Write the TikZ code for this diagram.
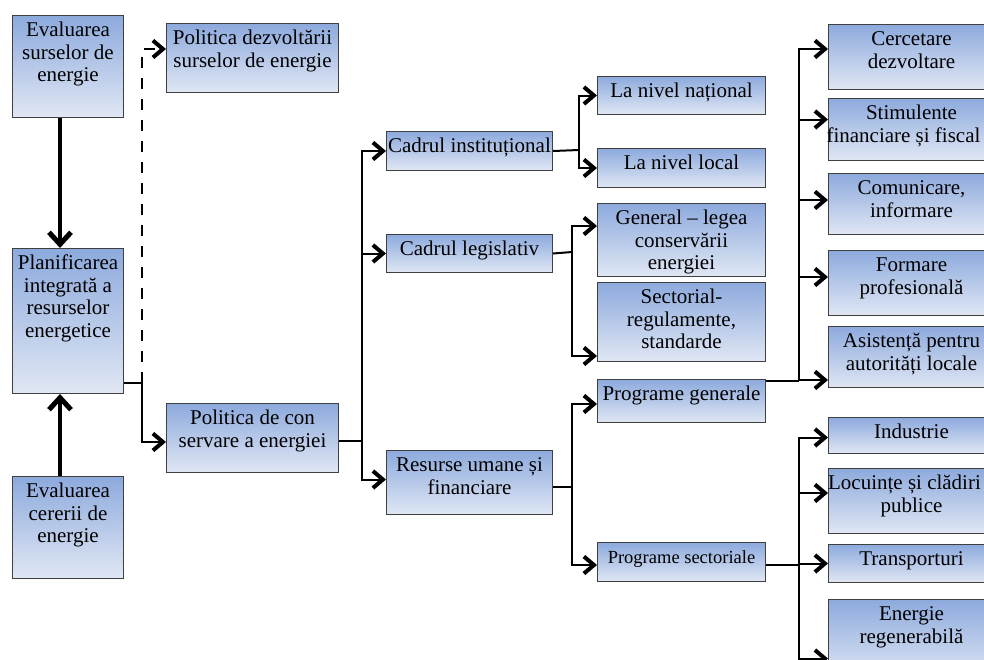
\documentclass[tikz,border=0pt]{standalone}
\usepackage{fontspec}
\setmainfont{Liberation Serif}
\usetikzlibrary{positioning,arrows.meta}
\definecolor{boxtop}{RGB}{141,170,221}
\definecolor{boxbot}{RGB}{224,231,244}
\newcommand{\btxt}[3]{\parbox[c][#2pt][t]{#1pt}{\centering\rule{0pt}{21pt}#3}}
\tikzset{
  box/.style={draw=black!75, line width=1pt, top color=boxtop, bottom color=boxbot,
    inner sep=0pt, font=\fontsize{21}{22.5}\selectfont},
  conn/.style={line width=2pt},
  arr/.style={conn, -{Straight Barb[length=10pt,width=17pt,line width=4pt]}},
  bigarr/.style={line width=4pt, -{Straight Barb[length=12pt,width=22pt,line width=5pt]}},
  dash line/.style={arr, dash pattern=on 11pt off 10pt}
}
\begin{document}
\begin{tikzpicture}[x=1pt, y=-1pt]
  \useasboundingbox (0,0) rectangle (984,659);
  \clip (0,0) rectangle (984,659);

  \node[box, anchor=north west] (ea) at (12,15) {\btxt{111}{102}{Evaluarea\\surselor de\\energie}};
  \node[box, below=130pt of ea] (pl) {\btxt{111}{145}{Planificarea\\integrată a\\resurselor\\energetice}};
  \node[box, below=82pt of pl] (ec) {\btxt{111}{102}{Evaluarea\\cererii de\\energie}};

  \node[box, anchor=north west] (pd) at (166,23) {\btxt{172}{69}{Politica dezvoltării\\surselor de energie}};
  \node[box, below=310pt of pd] (pc) {\btxt{172}{69}{Politica de con\\servare a energiei}};

  \node[box, anchor=north west] (ci) at (386,131) {\btxt{166}{39}{Cadrul instituțional}};
  \node[box, below=63pt of ci] (cl) {\btxt{166}{38}{Cadrul legislativ}};
  \node[box, below=177pt of cl] (ru) {\btxt{166}{64}{Resurse umane și\\financiare}};

  \node[box, anchor=north west] (ln) at (597,76) {\btxt{168}{38}{La nivel național}};
  \node[box, below=33pt of ln] (ll) {\btxt{168}{39}{La nivel local}};
  \node[box, below=15pt of ll] (gl) {\btxt{168}{73}{General – legea\\conservării\\energiei}};
  \node[box, below=5pt of gl] (sr) {\btxt{168}{79}{Sectorial-\\regulamente,\\standarde}};
  \node[box, below=17pt of sr] (pg) {\btxt{168}{43}{Programe generale}};
  \node[box, below=119pt of pg] (ps) {\btxt{168}{39}{\fontsize{18.5}{20}\selectfont Programe sectoriale}};

  \node[box, anchor=north west] (cd) at (828,24) {\btxt{166}{65}{Cercetare\\dezvoltare}};
  \node[box, below=8pt of cd] (sf) {\btxt{166}{62}{Stimulente\\\hspace*{-16pt}financiare și fiscal}};
  \node[box, below=12pt of sf] (co) {\btxt{166}{61}{Comunicare,\\informare}};
  \node[box, below=15pt of co] (fp) {\btxt{166}{65}{Formare\\profesională}};
  \node[box, below=10pt of fp] (as) {\btxt{166}{61}{Asistență pentru\\autorități locale}};
  \node[box, below=29pt of as] (ind) {\btxt{166}{36}{Industrie}};
  \node[box, below=14pt of ind] (lo) {\btxt{166}{65}{\hspace*{-14pt}Locuințe și clădiri\\publice}};
  \node[box, below=10pt of lo] (tr) {\btxt{166}{38}{Transporturi}};
  \node[box, below=16pt of tr] (er) {\btxt{166}{80}{Energie\\regenerabilă}};

  \draw[bigarr] ([xshift=-8pt]ea.south) -- ([xshift=-8pt]pl.north);
  \draw[bigarr] ([xshift=-8pt]ec.north) -- ([xshift=-8pt]pl.south);

  \coordinate (j1) at (142,383);
  \draw[conn] (pl.east |- j1) -- (j1);
  \draw[dash line] (j1) |- ([yshift=9pt]pd.west);
  \draw[arr] (j1) |- ([yshift=-4pt]pc.west);

  \coordinate (j2) at (362,441);
  \draw[conn] (pc.east |- j2) -- (j2);
  \draw[arr] (j2) |- (ci.west);
  \draw[arr] (j2) |- (cl.west);
  \draw[arr] (j2) |- ([yshift=3pt]ru.west);

  \coordinate (j3) at (579,150);
  \draw[conn] (ci.east) -- (j3);
  \draw[arr] (j3) |- (ln.west);
  \draw[arr] (j3) |- (ll.west);

  \coordinate (j4) at (572,252);
  \draw[conn] (cl.east) -- (j4);
  \draw[arr] (j4) |- ([yshift=14pt]gl.west);
  \draw[arr] (j4) |- ([yshift=-34pt]sr.west);

  \coordinate (j5) at (572,487);
  \draw[conn] (ru.east |- j5) -- (j5);
  \draw[arr] (j5) |- ([yshift=-3pt]pg.west);
  \draw[arr] (j5) |- ([yshift=-3pt]ps.west);

  \coordinate (j6) at (799,381);
  \draw[conn] (pg.east |- j6) -- (j6);
  \draw[arr] (j6) |- ([yshift=8pt]cd.west);
  \draw[arr] (j6) |- ([yshift=10pt]sf.west);
  \draw[arr] (j6) |- ([yshift=4pt]co.west);
  \draw[arr] (j6) |- ([yshift=6pt]fp.west);
  \draw[arr] (j6) |- ([yshift=-23pt]as.west);

  \coordinate (j7) at (799,565);
  \draw[conn] (ps.east |- j7) -- (j7);
  \draw[arr] (j7) |- ([yshift=-2pt]ind.west);
  \draw[arr] (j7) |- ([yshift=8pt]lo.west);
  \draw[arr] (j7) |- (tr.west);
  \draw[arr] (j7) |- ([yshift=-19pt]er.west);
\end{tikzpicture}
\end{document}
